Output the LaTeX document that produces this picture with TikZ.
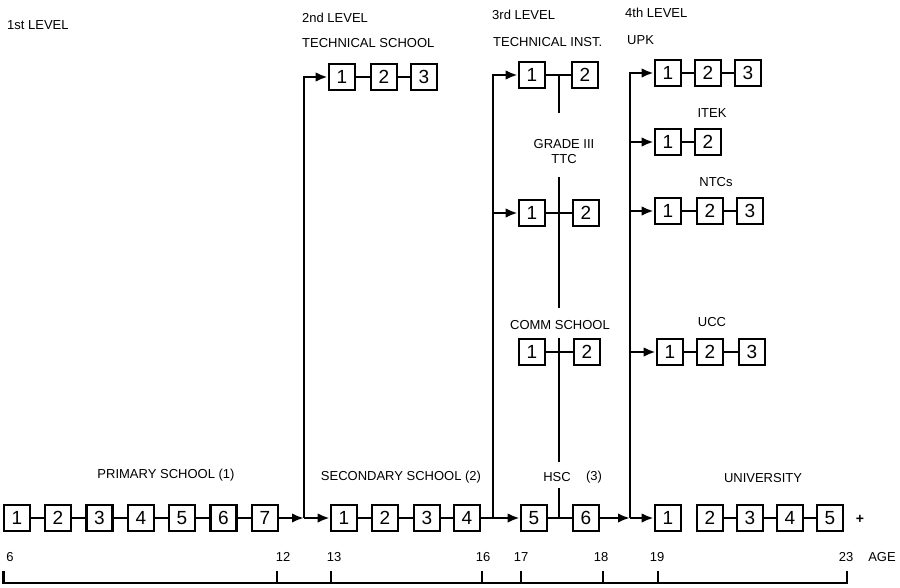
\documentclass[tikz,border=0pt]{standalone}
\usepackage{fontspec}
\setmainfont{Liberation Sans}
\usetikzlibrary{arrows.meta}
\begin{document}
\begin{tikzpicture}[x=1pt,y=-1pt,
 bx/.style={draw,line width=2.6pt,minimum width=26pt,minimum height=26pt,inner sep=0pt,font=\fontsize{19}{19}\selectfont},
 lbl/.style={inner sep=0pt,font=\fontsize{13}{15}\selectfont},
 conn/.style={line width=2.4pt},
 arr/.style={line width=2.4pt,-{Latex[length=12pt,width=9.5pt]}},
]
\useasboundingbox (0,0) rectangle (900,587);
% ---- level labels
\node[lbl,anchor=west] (l1) at (7,25) {1st LEVEL};
\node[lbl,anchor=west] (l2) at (302,18) {2nd LEVEL};
\node[lbl,anchor=west] (ts) at (302,43) {TECHNICAL SCHOOL};
\node[lbl,anchor=west] (l3) at (492,15) {3rd LEVEL};
\node[lbl,anchor=west] (ti) at (493,42) {TECHNICAL INST.};
\node[lbl,anchor=west] (l4) at (625,13) {4th LEVEL};
\node[lbl,anchor=west] (upk) at (627,40) {UPK};
\node[lbl,align=center] (gr) at (564,152) {GRADE III\\TTC};
\node[lbl] (itek) at (712,113) {ITEK};
\node[lbl] (ntcs) at (716,182) {NTCs};
\node[lbl] (comm) at (560,325) {COMM SCHOOL};
\node[lbl] (ucc) at (712,322) {UCC};
\node[lbl] (prim) at (166,475) {PRIMARY SCHOOL (1)};
\node[lbl] (sec) at (401,477) {SECONDARY SCHOOL (2)};
\node[lbl] (hsc) at (557,477) {HSC};
\node[lbl] (hsc3) at (594,477) {(3)};
\node[lbl] (univ) at (763,478) {UNIVERSITY};
\node[lbl,font=\fontsize{14}{14}\selectfont\bfseries] (plus) at (860,519) {+};
% ---- primary
\node[bx] (p1) at (17,518) {1};
\node[bx] (p2) at (58,518) {2};
\node[bx] (p3) at (99.5,518) {3};
\node[bx] (p4) at (141,518) {4};
\node[bx] (p5) at (182,518) {5};
\node[bx] (p6) at (223.5,518) {6};
\node[bx] (p7) at (265,518) {7};
% ---- secondary
\node[bx] (s1) at (344,518) {1};
\node[bx] (s2) at (385,518) {2};
\node[bx] (s3) at (427,518) {3};
\node[bx] (s4) at (467,518) {4};
% ---- HSC
\node[bx] (h5) at (534,518) {5};
\node[bx] (h6) at (586,518) {6};
% ---- university
\node[bx] (u1) at (668,518) {1};
\node[bx] (u2) at (710,518) {2};
\node[bx] (u3) at (750,518) {3};
\node[bx] (u4) at (790,518) {4};
\node[bx] (u5) at (830,518) {5};
% ---- technical school
\node[bx] (t1) at (342,77) {1};
\node[bx] (t2) at (384,77) {2};
\node[bx] (t3) at (424,77) {3};
% ---- technical inst
\node[bx] (ti1) at (532,75) {1};
\node[bx] (ti2) at (585,75) {2};
% ---- TTC
\node[bx] (tt1) at (532,213) {1};
\node[bx] (tt2) at (586,213) {2};
% ---- comm school
\node[bx] (cm1) at (532,352) {1};
\node[bx] (cm2) at (587,352) {2};
% ---- UPK
\node[bx] (up1) at (668,73) {1};
\node[bx] (up2) at (708,73) {2};
\node[bx] (up3) at (748,73) {3};
% ---- ITEK
\node[bx] (it1) at (668,142) {1};
\node[bx] (it2) at (708,142) {2};
% ---- NTCs
\node[bx] (nt1) at (668,211) {1};
\node[bx] (nt2) at (710,211) {2};
\node[bx] (nt3) at (750,211) {3};
% ---- UCC
\node[bx] (uc1) at (670,352) {1};
\node[bx] (uc2) at (710,352) {2};
\node[bx] (uc3) at (752,352) {3};
% ---- junctions
\coordinate (j1) at (304,518);
\coordinate (j1t) at (304,77);
\coordinate (j2) at (493,518);
\coordinate (j2t) at (493,75);
\coordinate (j2m) at (493,213);
\coordinate (j3) at (630,518);
\coordinate (j3t) at (630,73);
\coordinate (j3b) at (630,142);
\coordinate (j3c) at (630,211);
\coordinate (j3d) at (630,352);
\coordinate (m1a) at (559,75);
\coordinate (m1b) at (559,113);
\coordinate (m2a) at (559,177);
\coordinate (m2b) at (559,308);
\coordinate (m3a) at (559,338);
\coordinate (m3b) at (559,462);
\coordinate (m4a) at (559,488);
\coordinate (m4b) at (559,518);
% ---- connectors
\draw[conn] (p1)--(p2)--(p3)--(p4)--(p5)--(p6)--(p7);
\draw[arr] (p7)--(j1);
\draw[arr] (j1)--(s1);
\draw[arr] (j1)--(j1t)--(t1);
\draw[conn] (t1)--(t2)--(t3);
\draw[conn] (s1)--(s2)--(s3)--(s4)--(j2);
\draw[arr] (j2)--(h5);
\draw[arr] (j2)--(j2t)--(ti1);
\draw[arr] (j2m)--(tt1);
\draw[conn] (ti1)--(ti2);
\draw[conn] (tt1)--(tt2);
\draw[conn] (cm1)--(cm2);
\draw[conn] (m1a)--(m1b);
\draw[conn] (m2a)--(m2b);
\draw[conn] (m3a)--(m3b);
\draw[conn] (m4a)--(m4b);
\draw[conn] (h5)--(h6);
\draw[arr] (h6)--(j3);
\draw[arr] (j3)--(u1);
\draw[arr] (j3)--(j3t)--(up1);
\draw[arr] (j3b)--(it1);
\draw[arr] (j3c)--(nt1);
\draw[arr] (j3d)--(uc1);
\draw[conn] (up1)--(up2)--(up3);
\draw[conn] (it1)--(it2);
\draw[conn] (nt1)--(nt2)--(nt3);
\draw[conn] (uc1)--(uc2)--(uc3);
\draw[conn] (u2)--(u3)--(u4)--(u5);
% ---- age axis
\coordinate (a6) at (3.5,571);   \coordinate (a6b) at (3.5,583);
\coordinate (a12) at (277,571);  \coordinate (a12b) at (277,583);
\coordinate (a13) at (331,571);  \coordinate (a13b) at (331,583);
\coordinate (a16) at (482,571);  \coordinate (a16b) at (482,583);
\coordinate (a17) at (521,571);  \coordinate (a17b) at (521,583);
\coordinate (a18) at (603,571);  \coordinate (a18b) at (603,583);
\coordinate (a19) at (658,571);  \coordinate (a19b) at (658,583);
\coordinate (a23) at (847,571);  \coordinate (a23b) at (847,583);
\draw[conn] (a6)--(a6b)--(a23b)--(a23);
\foreach \t in {12,13,16,17,18,19} \draw[conn] (a\t)--(a\t b);
\node[lbl] (g6) at (10,557) {6};
\node[lbl] (g12) at (283,557) {12};
\node[lbl] (g13) at (334,557) {13};
\node[lbl] (g16) at (483,557) {16};
\node[lbl] (g17) at (521,557) {17};
\node[lbl] (g18) at (601,557) {18};
\node[lbl] (g19) at (657,557) {19};
\node[lbl] (g23) at (846,557) {23};
\node[lbl] (age) at (882,557) {AGE};
\end{tikzpicture}
\end{document}
